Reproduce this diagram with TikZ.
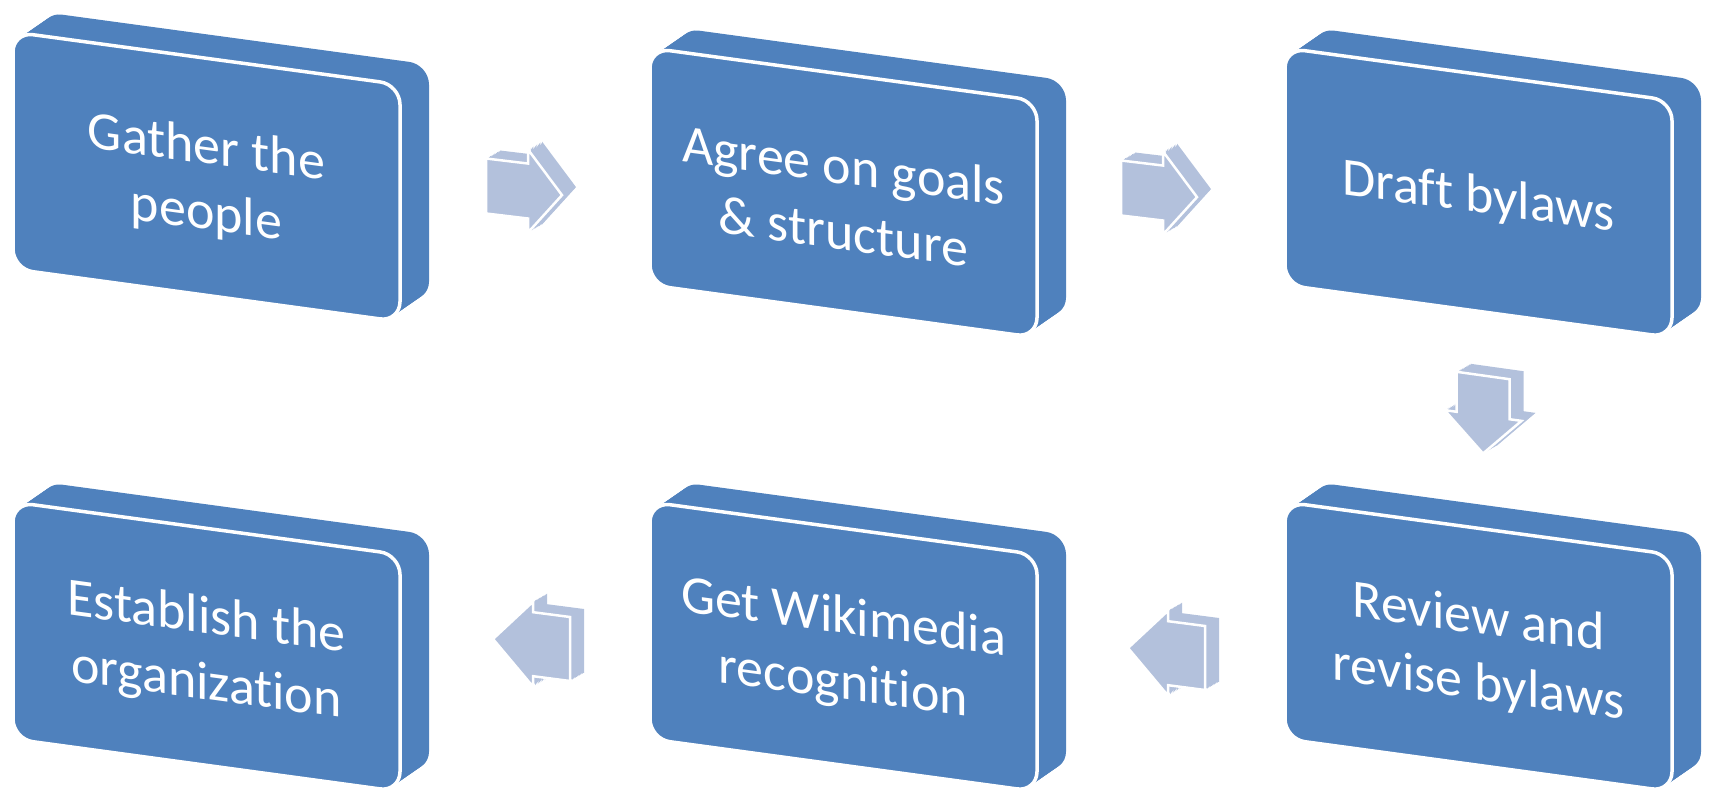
\documentclass[tikz,border=0pt]{standalone}
\usepackage{fontspec}
\setmainfont{Carlito}[Ligatures={NoCommon}]
\definecolor{boxblue}{RGB}{79,129,189}
\definecolor{arrowblue}{RGB}{179,193,220}
\newcommand\blockarrow[4]{(0,#2) -- (#1,#2) -- (#1,#4) -- ({#1+#3},0) -- (#1,-#4) -- (#1,-#2) -- (0,-#2) -- cycle}

\begin{document}
\begin{tikzpicture}[x=1pt,y=1pt,
  boxface/.style={fill=boxblue,rounded corners=20pt},
  boxtext/.style={text=white,align=center,transform shape,font=\fontsize{54}{66}\selectfont},
  arrowface/.style={fill=arrowblue}]
\useasboundingbox (0,0) rectangle (1710,-791);
\foreach \bx/\by/\name/\txt in {13/32/gather/{Gather the\\people},
  650/48/agree/{Agree on goals\\\& structure},
  1285/48/draft/{Draft bylaws},
  13/502/establish/{Establish the\\organization},
  650/502/recognition/{Get Wikimedia\\recognition},
  1285/502/review/{Review and\\revise bylaws}}
{
\begin{scope}[shift={(\bx,-\by)},yslant=-0.136]
\foreach \s in {15,14,...,1}
\fill[boxface,shift={({\s*29/15},{\s*24/15})}] (0,0) rectangle (387,-237);
\draw[boxface,draw=white,line width=3.5pt] (0,0) rectangle (387,-237);
\node[boxtext] (\name) at (193.5,-124) {\txt};
\end{scope}
}
\foreach \ax/\ay/\rot/\sl/\sa/\sb/\ha/\hb in {486/186/0/-0.12/42/27.5/34/41.5,
  1121/188/0/-0.12/42/27.5/34/41.5,
  1483/375.5/-90/-0.14/40/26.5/38/38.5,
  570/649/180/-0.13/37/32/40/42.5,
  1205/658/180/-0.13/37/32/40/42.5}
{
\foreach \t in {1,0.9,...,0.1}
\fill[arrowface,shift={({14*\t},{8*\t})},shift={(\ax,-\ay)},yslant=\sl,rotate=\rot] \blockarrow{\sa}{\sb}{\ha}{\hb};
\fill[arrowface,draw=white,line width=2.5pt,shift={(\ax,-\ay)},yslant=\sl,rotate=\rot] \blockarrow{\sa}{\sb}{\ha}{\hb};
}
\end{tikzpicture}
\end{document}
